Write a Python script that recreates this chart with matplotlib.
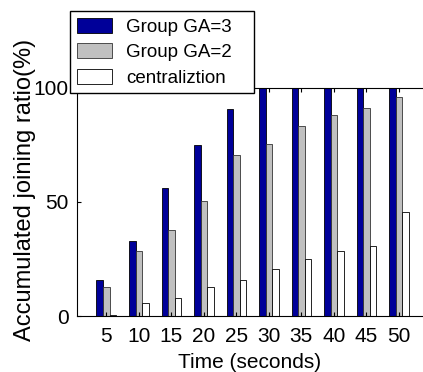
import numpy as np
import matplotlib
matplotlib.use("Agg")
import matplotlib.pyplot as plt

plt.rcParams['font.family'] = ['Liberation Sans', 'DejaVu Sans']

times = [5, 10, 15, 20, 25, 30, 35, 40, 45, 50]
ga3 = [16, 33, 56, 75, 91, 100, 100, 100, 100, 100]
ga2 = [12.6, 28.3, 37.7, 50.3, 70.6, 75.3, 83.4, 88.1, 91.2, 95.9]
central = [0.3, 5.6, 7.8, 12.6, 15.9, 20.6, 25.1, 28.3, 30.8, 45.7]
labels = ['Group GA=3', 'Group GA=2', 'centraliztion']

fig = plt.figure(figsize=(4.23, 3.72), dpi=100)
ax = fig.add_axes([0.182, 0.1505, 0.818, 0.613])

x = np.array(times)
w = 1.0
ax.bar(x - w, ga3, w, color='#000099', edgecolor='black', linewidth=0.6, label=labels[0])
ax.bar(x, ga2, w, color='#c0c0c0', edgecolor='#333333', linewidth=0.6, label=labels[1])
ax.bar(x + w, central, w, color='white', edgecolor='black', linewidth=0.6, label=labels[2])

ax.set_xlim(0.5, 53.7)
ax.set_ylim(0, 100)
ax.set_xticks(times)
ax.set_yticks([0, 50, 100])
ax.tick_params(direction='in', top=True, right=False, length=3, labelsize=15)
ax.tick_params(axis='x', pad=8)
ax.tick_params(axis='y', pad=6)
ax.spines['right'].set_visible(False)

# labels placed by hand (the y one is bigger than the x one)
fig.text(249.5 / 423, 1 - 363 / 372, 'Time (seconds)', fontsize=15,
         ha='center', va='center')
fig.text(25 / 423, 1 - 190 / 372, 'Accumulated joining ratio(%)', fontsize=17,
         ha='center', va='center', rotation=90)

leg = fig.legend(loc='upper left', bbox_to_anchor=(0.1655, 0.7527, 0.435, 0.2173),
                 mode='expand', fontsize=13.5,
                 frameon=True, fancybox=False, shadow=False, framealpha=1,
                 handlelength=1.9, handleheight=0.85, labelspacing=0.4,
                 borderpad=0.35, handletextpad=0.75, borderaxespad=0)
leg.get_frame().set_edgecolor('black')
leg.get_frame().set_linewidth(1.0)

fig.savefig('out.png', dpi=100)
